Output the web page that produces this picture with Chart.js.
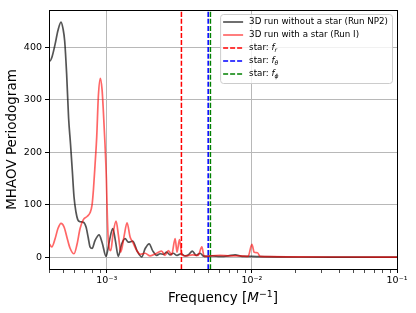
<!DOCTYPE html>
<html lang="en">
<head>
<meta charset="UTF-8">
<title>MHAOV Periodogram</title>
<script src="https://cdn.jsdelivr.net/npm/chart.js"></script>
<style>
    body { margin: 0; background: #fff; }
    #wrap { width: 416px; height: 313px; }
</style>
</head>
<body>
<div id="wrap"><canvas id="periodogram" width="416" height="313"></canvas></div>
<script>
// --- data ---
const seriesLabels = ['3D run without a star (Run NP2)', '3D run with a star (Run I)'];

const freqNP2 = [4.00e-4, 4.06e-4, 4.20e-4, 4.40e-4, 4.61e-4, 4.84e-4, 5.00e-4, 5.13e-4, 5.29e-4, 5.46e-4,
    5.63e-4, 5.79e-4, 5.95e-4, 6.14e-4, 6.31e-4, 6.55e-4, 6.90e-4, 7.20e-4, 7.45e-4, 7.67e-4,
    7.92e-4, 8.30e-4, 8.85e-4, 9.30e-4, 9.89e-4, 1.04e-3, 1.10e-3, 1.15e-3, 1.20e-3, 1.265e-3,
    1.337e-3, 1.41e-3, 1.51e-3, 1.62e-3, 1.74e-3, 1.84e-3, 1.96e-3, 2.07e-3, 2.21e-3, 2.33e-3,
    2.46e-3, 2.59e-3, 2.73e-3, 2.87e-3, 3.05e-3, 3.25e-3, 3.47e-3, 3.66e-3, 3.89e-3, 4.13e-3,
    4.40e-3, 4.61e-3, 4.89e-3, 5.32e-3, 6.04e-3, 6.86e-3, 7.67e-3, 8.58e-3, 1.0e-2, 1.14e-2,
    1.5e-2, 2.2e-2, 3.5e-2, 6e-2, 1e-1];
const powerNP2 = [376, 374, 382, 405, 432, 448, 435, 412, 350, 265,
    215, 165, 115, 86, 72, 68, 67, 58, 38, 20,
    17, 32, 43, 28, 2, 30, 55, 30, 2, 25,
    36, 29, 31, 12, 1, 17, 26, 13, 4, 7,
    6, 10, 5, 8, 4, 7, 3, 5, 12, 4,
    8, 3, 2, 3, 2, 3, 5, 2, 2, 1.5,
    1, 0.8, 0.7, 0.6, 0.5];

const freqRunI = [4.00e-4, 4.18e-4, 4.40e-4, 4.61e-4, 4.84e-4, 5.08e-4, 5.32e-4, 5.58e-4, 5.95e-4, 6.24e-4,
    6.55e-4, 6.90e-4, 7.32e-4, 7.67e-4, 7.92e-4, 8.09e-4, 8.30e-4, 8.53e-4, 8.75e-4, 9.03e-4,
    9.28e-4, 9.47e-4, 9.73e-4, 9.94e-4, 1.009e-3, 1.026e-3, 1.066e-3, 1.105e-3, 1.159e-3, 1.206e-3,
    1.249e-3, 1.316e-3, 1.38e-3, 1.448e-3, 1.51e-3, 1.61e-3, 1.70e-3, 1.84e-3, 1.99e-3, 2.21e-3,
    2.39e-3, 2.52e-3, 2.66e-3, 2.80e-3, 2.96e-3, 3.05e-3, 3.17e-3, 3.30e-3, 3.52e-3, 3.88e-3,
    4.26e-3, 4.52e-3, 4.69e-3, 5.15e-3, 6.04e-3, 7.08e-3, 8.30e-3, 9.42e-3, 1.0e-2, 1.037e-2,
    1.094e-2, 1.14e-2, 1.34e-2, 2.15e-2, 4.76e-2, 1e-1];
const powerRunI = [27, 20, 35, 55, 65, 58, 38, 18, 7, 25,
    55, 72, 78, 85, 100, 128, 175, 230, 306, 341,
    320, 280, 215, 150, 80, 30, 13, 45, 69, 40,
    10, 40, 66, 39, 29, 13, 6, 8, 3, 8,
    12, 4, 13, 5, 36, 10, 34, 5, 3, 5,
    4, 20, 2, 3, 4, 3, 3, 2, 25, 10,
    9, 2, 1.5, 1, 0.8, 0.5];

// characteristic star frequencies (vertical dashed lines)
const starLabels = ['star: f_r', 'star: f_θ', 'star: f_ϕ'];
const starFreqs = [3.27e-3, 5.0e-3, 5.18e-3];
const starColors = ['#ff0000', '#0000ff', '#008000'];

const xRange = [4e-4, 1e-1];
const yRange = [-22, 471];
const yTicks = [0, 100, 200, 300, 400];
const xMajorTicks = [1e-3, 1e-2, 1e-1];
const xTickLabels = ['10⁻³', '10⁻²', '10⁻¹'];

const FONT = '"DejaVu Sans", sans-serif';

function majorIndex(v) {
    return xMajorTicks.findIndex(m => Math.abs(Math.log10(v) - Math.log10(m)) < 1e-6);
}

// minor + major log ticks, like matplotlib
function logTicks() {
    const out = [];
    for (let e = -4; e <= -2; e++) {
        for (let k = 1; k <= 9; k++) {
            const v = k * Math.pow(10, e);
            if (v >= xRange[0] * 0.999 && v <= xRange[1] * 1.001) out.push({ value: v });
        }
    }
    out.push({ value: xRange[1] });
    return out;
}

const datasets = [
    {
        label: seriesLabels[0],
        data: freqNP2.map((f, i) => ({ x: f, y: powerNP2[i] })),
        borderColor: 'rgba(0,0,0,0.67)',
        borderWidth: 1.7,
        order: 5
    },
    {
        label: seriesLabels[1],
        data: freqRunI.map((f, i) => ({ x: f, y: powerRunI[i] })),
        borderColor: 'rgba(255,0,0,0.6)',
        borderWidth: 1.7,
        order: 4
    }
];
starFreqs.forEach((f, i) => {
    datasets.push({
        label: starLabels[i],
        data: [{ x: f, y: yRange[0] }, { x: f, y: yRange[1] }],
        borderColor: starColors[i],
        borderWidth: 1.5,
        borderDash: [5, 2],
        order: 2 - i
    });
});

// label with optional italic f and subscript
function drawLabel(ctx, text, x, y, size, draw) {
    const m = text.match(/^(.*)f_(.)$/);
    let w = 0;
    const put = (s, font, dy) => {
        ctx.font = font;
        if (draw) ctx.fillText(s, x + w, y + dy);
        w += ctx.measureText(s).width;
    };
    if (!m) {
        put(text, size + 'px ' + FONT, 0);
        return w;
    }
    put(m[1], size + 'px ' + FONT, 0);
    put('f', 'italic ' + size + 'px ' + FONT, 0);
    put(m[2], 'italic ' + (size * 0.7).toFixed(1) + 'px ' + FONT, 2);
    return w;
}

const overlay = {
    id: 'overlay',
    afterDatasetsDraw(chart) {
        const { ctx, chartArea: a } = chart;
        ctx.save();

        // frame (all four spines)
        ctx.strokeStyle = '#000';
        ctx.lineWidth = 1;
        ctx.strokeRect(a.left + 0.5, a.top + 0.5, a.right - a.left, a.bottom - a.top);

        // legend, upper right inside the axes
        const size = 8.7;
        const rowH = 13;
        const items = chart.data.datasets;
        const textW = Math.max(...items.map(ds => drawLabel(ctx, ds.label, 0, 0, size, false)));
        const boxW = 3 + 20 + 6 + textW + 4;
        const boxH = items.length * rowH + 4;
        const x0 = a.right - 5 - boxW;
        const y0 = a.top + 4;
        ctx.beginPath();
        ctx.roundRect(x0 + 0.5, y0 + 0.5, boxW, boxH, 3);
        ctx.fillStyle = 'rgba(255,255,255,0.8)';
        ctx.fill();
        ctx.strokeStyle = '#cccccc';
        ctx.stroke();

        ctx.textBaseline = 'middle';
        ctx.textAlign = 'left';
        items.forEach((ds, i) => {
            const cy = y0 + 8 + i * rowH;
            ctx.beginPath();
            ctx.setLineDash(ds.borderDash || []);
            ctx.strokeStyle = ds.borderColor;
            ctx.lineWidth = ds.borderWidth;
            ctx.moveTo(x0 + 3, cy);
            ctx.lineTo(x0 + 23, cy);
            ctx.stroke();
            ctx.setLineDash([]);
            ctx.fillStyle = '#000';
            drawLabel(ctx, ds.label, x0 + 29, cy, size, true);
        });

        // x axis title with italic M and superscript
        const tSize = 13.5;
        const parts = [
            ['Frequency [', tSize + 'px ' + FONT, 0],
            ['M', 'italic ' + tSize + 'px ' + FONT, 0],
            ['−1', (tSize * 0.7).toFixed(1) + 'px ' + FONT, -5],
            [']', tSize + 'px ' + FONT, 0]
        ];
        let total = 0;
        parts.forEach(p => { ctx.font = p[1]; total += ctx.measureText(p[0]).width; });
        let tx = (a.left + a.right) / 2 - total / 2;
        const ty = 302;
        ctx.textBaseline = 'alphabetic';
        ctx.fillStyle = '#000';
        parts.forEach(p => {
            ctx.font = p[1];
            ctx.fillText(p[0], tx, ty + p[2]);
            tx += ctx.measureText(p[0]).width;
        });
        ctx.restore();
    }
};

new Chart(document.getElementById('periodogram'), {
    type: 'line',
    data: { datasets },
    options: {
        responsive: false,
        animation: false,
        devicePixelRatio: 1,
        layout: { padding: { top: 10, right: 19, left: 0, bottom: 0 } },
        elements: {
            point: { radius: 0 },
            line: { cubicInterpolationMode: 'monotone' }
        },
        plugins: { legend: { display: false }, tooltip: { enabled: false } },
        scales: {
            x: {
                type: 'logarithmic',
                min: xRange[0],
                max: xRange[1],
                afterBuildTicks: s => { s.ticks = logTicks(); },
                afterFit: s => { s.height = 44; },
                border: { display: false },
                grid: {
                    color: c => (c.tick && majorIndex(c.tick.value) >= 0) ? '#b8b8b8' : 'rgba(0,0,0,0)',
                    tickColor: '#000',
                    tickWidth: c => (c.tick && majorIndex(c.tick.value) >= 0) ? 1 : 0.7,
                    tickLength: 4,
                    lineWidth: 1
                },
                ticks: {
                    autoSkip: false,
                    maxRotation: 0,
                    padding: 2,
                    color: '#000',
                    font: { family: FONT, size: 9.5 },
                    callback: v => {
                        const i = majorIndex(v);
                        return i >= 0 ? xTickLabels[i] : '';
                    }
                }
            },
            y: {
                type: 'linear',
                min: yRange[0],
                max: yRange[1],
                afterBuildTicks: s => { s.ticks = yTicks.map(v => ({ value: v })); },
                afterFit: s => { s.width = 49; },
                border: { display: false },
                grid: {
                    color: '#b8b8b8',
                    tickColor: '#000',
                    tickLength: 4,
                    lineWidth: 1
                },
                ticks: {
                    padding: 3,
                    color: '#000',
                    font: { family: FONT, size: 9.5 }
                },
                title: {
                    display: true,
                    text: 'MHAOV Periodogram',
                    color: '#000',
                    font: { family: FONT, size: 13.5 },
                    padding: { top: 4, bottom: 0 }
                }
            }
        }
    },
    plugins: [overlay]
});
</script>
</body>
</html>
